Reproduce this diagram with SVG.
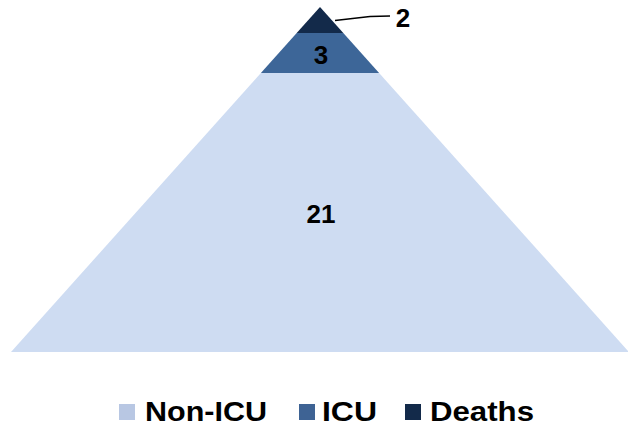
<svg xmlns="http://www.w3.org/2000/svg" width="628" height="429" viewBox="0 0 628 429">
<style>
.num{font-family:"Liberation Sans",Arial,sans-serif;font-weight:bold;font-size:26px;fill:#000;text-anchor:middle}
.leg{font-family:"Liberation Sans",Arial,sans-serif;font-weight:bold;font-size:28px;fill:#000}
</style>
<rect width="628" height="429" fill="#ffffff"/>
<g id="non-icu">
<polygon points="260.9,73 379.1,73 629,352 11,352" fill="#cedcf2"/>
<text class="num" x="321" y="223">21</text>
</g>
<g id="icu">
<polygon points="296.7,33 343.3,33 379.1,73 260.9,73" fill="#3d6698"/>
<text class="num" x="321" y="64">3</text>
</g>
<g id="deaths">
<polygon points="320,7 343.3,33 296.7,33" fill="#132a4a"/>
<text class="num" x="403" y="27">2</text>
</g>
<g id="connectors">
<path d="M335,20.5 L370,16.5 L390,16" fill="none" stroke="#000" stroke-width="1.5"/>
</g>
<g id="legend">
<rect x="119" y="404" width="16" height="16" fill="#b8c7e3"/>
<text class="leg" x="145" y="421" textLength="122" lengthAdjust="spacingAndGlyphs">Non-ICU</text>
<rect x="299" y="404" width="16" height="16" fill="#3e6394"/>
<text class="leg" x="322" y="421" textLength="55" lengthAdjust="spacingAndGlyphs">ICU</text>
<rect x="405" y="404" width="16" height="16" fill="#132a4a"/>
<text class="leg" x="430" y="421" textLength="104" lengthAdjust="spacingAndGlyphs">Deaths</text>
</g>
</svg>
